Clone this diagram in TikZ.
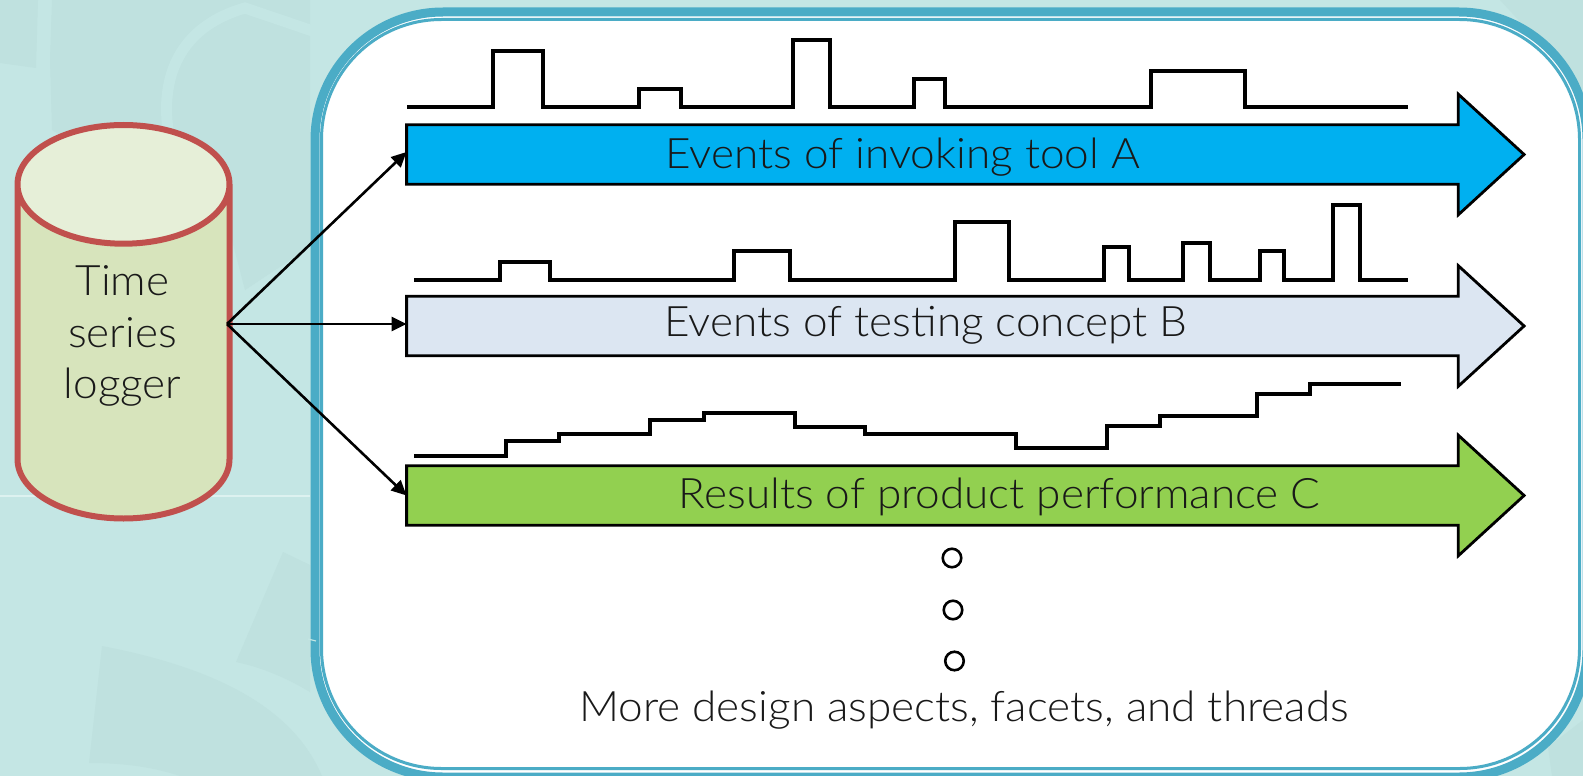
\documentclass[tikz,border=0pt]{standalone}
\usepackage{fontspec}
\setmainfont{Lato}[UprightFont=* Light,FakeStretch=1.05]
\usetikzlibrary{shapes.geometric,shapes.arrows,arrows.meta}
\definecolor{bglight}{HTML}{C4E6E4}
\definecolor{bgdark}{HTML}{BFE1DF}
\definecolor{bgline}{HTML}{DDF2F0}
\definecolor{frameteal}{HTML}{4BACC6}
\definecolor{loggerred}{HTML}{C0504D}
\definecolor{loggerbody}{HTML}{D7E4BC}
\definecolor{loggertop}{HTML}{E6EFD8}
\definecolor{toolblue}{HTML}{00B0F0}
\definecolor{conceptblue}{HTML}{DCE6F2}
\definecolor{resultgreen}{HTML}{92D050}
\begin{document}
\begin{tikzpicture}[x=1pt,y=1pt]
        \tikzstyle{every node}+=[inner sep=0pt,outer sep=0pt]
        \tikzstyle{wave}=[black,line width=3.5pt,line join=miter]
        \tikzstyle{blockarrow}=[draw=black,line width=2.8pt,single arrow,inner ysep=28.4pt,inner xsep=0pt,single arrow head extend=30.5pt,single arrow tip angle=85,single arrow head indent=0pt,minimum height=1117.5pt,minimum width=118pt,anchor=west]
        \tikzstyle{dotmark}=[draw=black,line width=2.6pt,circle,minimum size=18.5pt]
        \tikzstyle{lbl}=[anchor=base,text=black!90,font=\fontsize{42}{50}\selectfont]
        \tikzstyle{feed}=[black,line width=2.6pt,-{Triangle[length=15pt,width=14pt]}]
        \clip (0,0) rectangle (1583,-776);
        \fill [bglight] (0,0) rectangle (1583,-776);
        \fill [bgdark] (0,0) -- (38,0) -- (36,-68) -- (0,-63) -- cycle;
        \fill [bgdark] (52,0) -- (50,-60) -- (52,-130) -- (232,-240) -- (245,-290) -- (310,-247) -- (310,0) -- cycle;
        \fill [bgdark] (1500,0) -- (1583,0) -- (1583,-90) -- cycle;
        \fill [bgdark] (102,-646) .. controls (200,-665) and (290,-700) .. (322,-776) -- (180,-776) .. controls (150,-766) and (120,-763) .. (89,-763) -- cycle;
        \fill [bgdark] (283,-552) -- (236,-662) .. controls (265,-668) and (290,-680) .. (310,-692) -- (310,-565) -- cycle;
        \fill [bgdark] (1548,-747) -- (1583,-720) -- (1583,-776) -- (1552,-776) -- cycle;
        \draw [bglight,line width=11pt] (168,-130) .. controls (160,-70) and (185,-25) .. (245,-8) -- (345,-42);
        \draw [bgline,line width=1.5pt] (0,-496) -- (310,-496);
        \draw [frameteal,line width=9pt,fill=white,rounded corners=128pt] (315,-12) rectangle (1587,-777);
        \draw [frameteal,line width=3pt,fill=white,rounded corners=120pt] (321.5,-19.5) rectangle (1579.5,-768.5);
        \draw [bglight,line width=1.2pt] (308,-639) -- (316,-641);
        \node [cylinder,shape border rotate=90,aspect=0.56,inner sep=106pt,draw=loggerred,line width=6pt,cylinder uses custom fill,cylinder body fill=loggerbody,cylinder end fill=loggertop,minimum width=212pt,minimum height=393.5pt,anchor=shape center] (logger) at (123.5,-321.75) {};
        \node [lbl] (loggertime) at (122.5,-295) {Time};
        \node [lbl] (loggerseries) at (122.5,-347) {series};
        \node [lbl] (loggerword) at (122.5,-398) {logger};
        \coordinate (loggerout) at (227,-324);
        \node [blockarrow,fill=toolblue] (toolarrow) at (406.5,-154.5) {};
        \node [lbl] (toollabel) at (902.7,-168.3) {Events of invoking tool A};
        \node [blockarrow,fill=conceptblue] (conceptarrow) at (406.5,-326) {};
        \node [lbl] (conceptlabel) at (926,-336) {Events of testing concept B};
        \node [blockarrow,fill=resultgreen] (resultarrow) at (406.5,-495.5) {};
        \node [lbl] (resultlabel) at (999.5,-508.3) {Results of product performance C};
        \draw [feed] (loggerout) -- ([yshift=2.5pt]toolarrow.west);
        \draw [feed] (loggerout) -- (loggerout -| conceptarrow.west);
        \draw [feed] (loggerout) -- (resultarrow.west);
        \draw [wave] (407,-107) -- (493,-107) |- (543,-51) |- (639,-107) |- (681,-89) |- (793,-107) |- (830,-40) |- (914,-107) |- (945,-79) |- (1151,-107) |- (1245,-71) |- (1408,-107);
        \draw [wave] (414,-280) -- (500,-280) |- (550,-262) |- (734,-280) |- (790,-251) |- (955,-280) |- (1009,-222) |- (1104,-280) |- (1129,-247) |- (1183,-280) |- (1210,-243) |- (1260,-280) |- (1284,-251) |- (1333,-280) |- (1360,-205) |- (1408,-280);
        \draw [wave] (414,-456) -- (506,-456) |- (559,-441) |- (650,-434) |- (704,-420) |- (795,-413) |- (865,-427) |- (1016,-434) |- (1107,-448) |- (1160,-426) |- (1257,-416) |- (1310,-394) |- (1401,-384);
        \node [dotmark] (dota) at (952,-558) {};
        \node [dotmark] (dotb) at (953,-610) {};
        \node [dotmark] (dotc) at (954.5,-661) {};
        \node [lbl] (morelabel) at (964,-721.7) {More design aspects, facets, and threads};
        \end{tikzpicture}
\end{document}
